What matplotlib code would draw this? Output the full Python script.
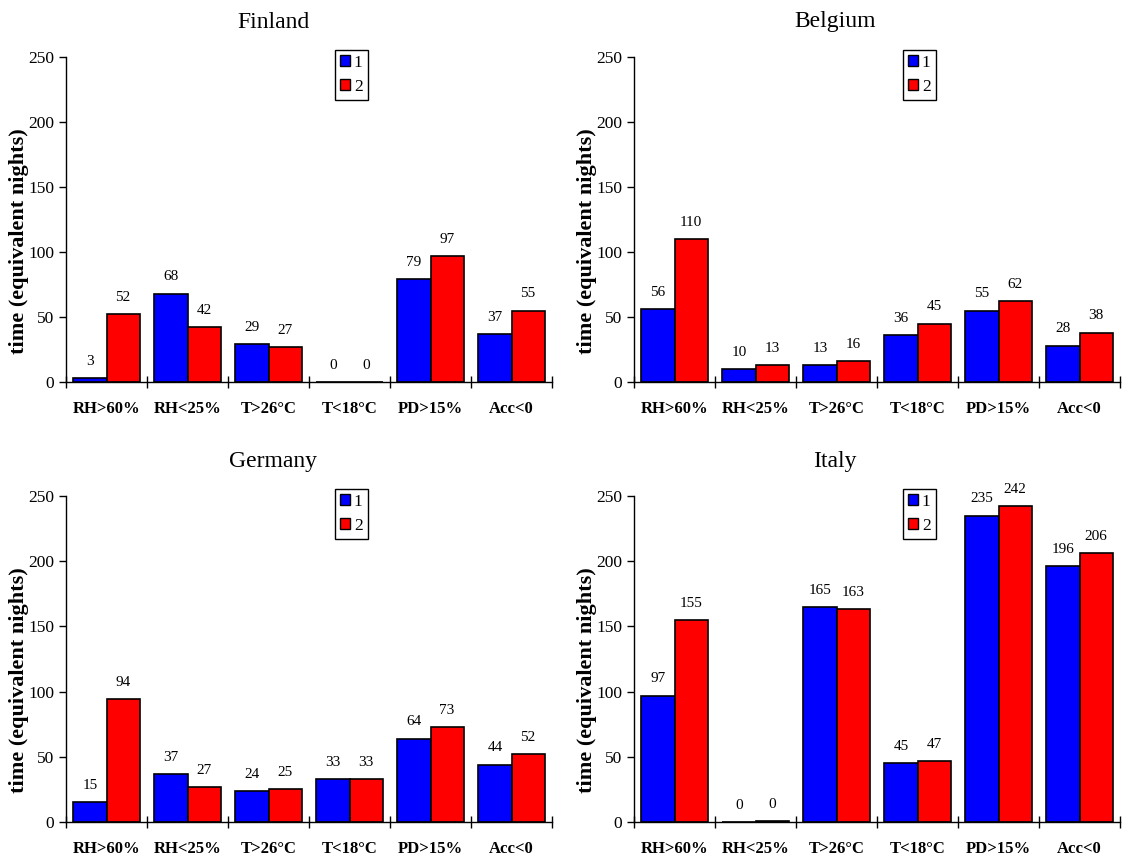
import numpy as np
import matplotlib
matplotlib.use('Agg')
from matplotlib import pyplot as plt
from matplotlib.patches import Patch

plt.rcParams['font.family'] = ['Liberation Serif', 'DejaVu Serif']

categories = ['RH>60%', 'RH<25%', 'T>26°C', 'T<18°C', 'PD>15%', 'Acc<0']
series_names = ['1', '2']

finland_1 = [3, 68, 29, 0, 79, 37]
finland_2 = [52, 42, 27, 0, 97, 55]
belgium_1 = [56, 10, 13, 36, 55, 28]
belgium_2 = [110, 13, 16, 45, 62, 38]
germany_1 = [15, 37, 24, 33, 64, 44]
germany_2 = [94, 27, 25, 33, 73, 52]
italy_1 = [97, 0, 165, 45, 235, 196]
italy_2 = [155, 0.4, 163, 47, 242, 206]

panels = [
    ('Finland', finland_1, finland_2),
    ('Belgium', belgium_1, belgium_2),
    ('Germany', germany_1, germany_2),
    ('Italy', italy_1, italy_2),
]

W, H = 1122, 856
fig = plt.figure(figsize=(W / 100, H / 100), dpi=100)

# axes boxes in pixels: left, right, top(250), bottom(0)
boxes = [(66, 552, 57, 382), (634, 1120, 57, 382),
         (66, 552, 496, 822), (634, 1120, 496, 822)]
title_pos = [(273, 22), (835, 22), (273, 462), (835, 462)]

x = np.arange(len(categories)) + 0.5
w = 0.41

for (name, s1, s2), (l, r, t, b), (tx, ty) in zip(panels, boxes, title_pos):
    ax = fig.add_axes([l / W, 1 - b / H, (r - l) / W, (b - t) / H])
    b1 = ax.bar(x - w / 2, s1, w, color='#0000ff', edgecolor='black', linewidth=1.2)
    b2 = ax.bar(x + w / 2, s2, w, color='#ff0000', edgecolor='black', linewidth=1.2)
    for bars, vals in ((b1, s1), (b2, s2)):
        for rect, v in zip(bars, vals):
            ax.annotate('%.0f' % v, (rect.get_x() + rect.get_width() / 2, v),
                        xytext=(0, 12), textcoords='offset points',
                        ha='center', va='center', fontsize=11)

    ax.set_xlim(0, 6)
    ax.set_ylim(0, 250)
    ax.set_yticks([0, 50, 100, 150, 200, 250])
    ax.set_xticks(x)
    ax.set_xticklabels(categories, fontweight='bold', fontsize=12)
    ax.set_xticks(np.arange(7), minor=True)
    ax.tick_params(axis='x', which='major', length=0, pad=14)
    ax.tick_params(axis='x', which='minor', direction='inout', length=8, width=1)
    ax.tick_params(axis='y', direction='out', length=5, width=1, labelsize=12.5)
    for s in ['top', 'right']:
        ax.spines[s].set_visible(False)
    for s in ['left', 'bottom']:
        ax.spines[s].set_linewidth(1)
    ax.set_ylabel('time (equivalent nights)', fontweight='bold', fontsize=16)
    ax.yaxis.set_label_coords(-0.076, 0.435)

    handles = [Patch(facecolor='#0000ff', edgecolor='black'),
               Patch(facecolor='#ff0000', edgecolor='black')]
    leg = ax.legend(handles, series_names, loc='upper left',
                    bbox_to_anchor=(0.553, 1.022), fontsize=12.5,
                    handlelength=0.6, handleheight=0.6, handletextpad=0.2,
                    labelspacing=0.45, borderpad=0.3, borderaxespad=0,
                    fancybox=False, framealpha=1, edgecolor='black')
    leg.get_frame().set_linewidth(1)

    fig.text(tx / W, 1 - ty / H, name, ha='center', va='center', fontsize=17)

fig.savefig('out.png', dpi=100)
